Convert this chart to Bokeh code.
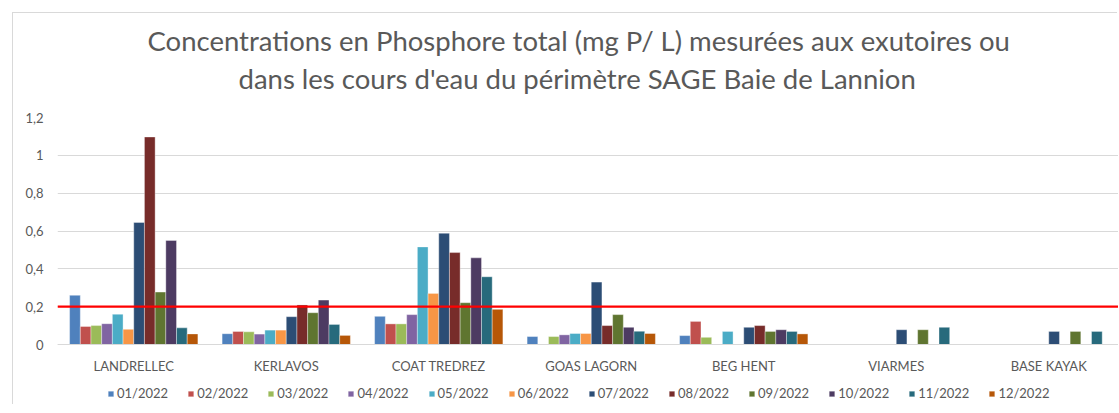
import numpy as np
from bokeh.plotting import figure
from bokeh.models import (Range1d, FixedTicker, CustomJSTickFormatter, Span, Title,
                          Legend, LegendItem, ColumnDataSource)
from bokeh.transform import dodge
from bokeh.embed import file_html
from bokeh.resources import INLINE

sites = ["LANDRELLEC", "KERLAVOS", "COAT TREDREZ", "GOAS LAGORN", "BEG HENT", "VIARMES", "BASE KAYAK"]
months = ["01/2022", "02/2022", "03/2022", "04/2022", "05/2022", "06/2022",
          "07/2022", "08/2022", "09/2022", "10/2022", "11/2022", "12/2022"]
colors = ["#4F81BD", "#C0504D", "#9BBB59", "#8064A2", "#4BACC6", "#F79646",
          "#2C4D75", "#772C2A", "#5F7530", "#4D3B62", "#276A7C", "#B65708"]

N = None
m01 = [0.26, 0.057, 0.149, 0.042, 0.047, N, N]
m02 = [0.095, 0.069, 0.109, N, 0.122, N, N]
m03 = [0.10, 0.067, 0.109, 0.042, 0.038, N, N]
m04 = [0.11, 0.055, 0.158, 0.051, N, N, N]
m05 = [0.16, 0.076, 0.516, 0.058, 0.069, N, N]
m06 = [0.08, 0.076, 0.27, 0.058, N, N, N]
m07 = [0.645, 0.147, 0.588, 0.33, 0.091, 0.078, 0.069]
m08 = [1.097, 0.209, 0.486, 0.10, 0.10, N, N]
m09 = [0.277, 0.168, 0.221, 0.158, 0.069, 0.078, 0.069]
m10 = [0.55, 0.235, 0.458, 0.091, 0.078, N, N]
m11 = [0.088, 0.106, 0.358, 0.07, 0.069, 0.091, 0.069]
m12 = [0.056, 0.048, 0.186, 0.058, 0.056, N, N]
series = [m01, m02, m03, m04, m05, m06, m07, m08, m09, m10, m11, m12]

threshold = 0.2
title_line1 = "Concentrations en Phosphore total (mg P/ L) mesurées aux exutoires ou"
title_line2 = "dans les cours d'eau du périmètre SAGE Baie de Lannion"
yticks = [0, 0.2, 0.4, 0.6, 0.8, 1.0, 1.2]

FONT = "Lato"
TXT = "#595959"
GRID = "#d9d9d9"

CAT_W = 152.5          # pixel width of one category
FRAME_W = 1061
PX_PER_UNIT = 227 / 1.2
FRAME_H = 288          # frame reaches down to include axis labels and legend
bar_w = 0.0701         # bar width in category units
y_lo = -(FRAME_H - 227) / PX_PER_UNIT

p = figure(width=44 + FRAME_W, height=104 + FRAME_H, frame_width=FRAME_W, frame_height=FRAME_H,
           output_backend="svg", toolbar_location=None,
           x_range=Range1d(0, FRAME_W / CAT_W), y_range=Range1d(y_lo, 1.2),
           min_border_left=44, min_border_right=0, min_border_top=104, min_border_bottom=0)
p.margin = (13, 0, 0, 13)
p.styles = {"box-shadow": "-1px -1px 0 0 #d9d9d9"}
p.outline_line_color = None
p.background_fill_color = "white"
p.border_fill_color = "white"

items = []
for j, (vals, lab, col) in enumerate(zip(series, months, colors)):
    xs = [i + 0.5 for i, v in enumerate(vals) if v is not None]
    ts = [v for v in vals if v is not None]
    src = ColumnDataSource(dict(x=xs, top=ts))
    r = p.vbar(x=dodge("x", (j - 5.5) * bar_w), top="top", bottom=0, width=bar_w,
               source=src, fill_color=col, line_color="white", line_alpha=0.45, line_width=0.8)
    items.append(LegendItem(label=lab, renderers=[r]))

p.add_layout(Span(location=threshold, dimension="width", line_color="#FF0000", line_width=2.3))

# axes
p.xaxis.fixed_location = 0
p.xaxis.ticker = FixedTicker(ticks=[i + 0.5 for i in range(len(sites))])
p.xaxis.formatter = CustomJSTickFormatter(args=dict(cats=sites), code="return cats[Math.floor(tick)];")
p.xaxis.axis_line_color = GRID
p.xaxis.major_tick_line_color = None
p.xaxis.minor_tick_line_color = None
p.xaxis.major_tick_out = 0
p.xaxis.major_tick_in = 0
p.xaxis.major_label_standoff = 13
p.xaxis.major_label_text_font = FONT
p.xaxis.major_label_text_font_size = "13px"
p.xaxis.major_label_text_color = TXT

p.yaxis.ticker = FixedTicker(ticks=yticks)
p.yaxis.formatter = CustomJSTickFormatter(code="return String(Math.round(tick*10)/10).replace('.', ',');")
p.yaxis.axis_line_color = None
p.yaxis.major_tick_line_color = None
p.yaxis.minor_tick_line_color = None
p.yaxis.major_tick_out = 0
p.yaxis.major_tick_in = 0
p.yaxis.major_label_standoff = 14
p.yaxis.major_label_text_font = FONT
p.yaxis.major_label_text_font_size = "13px"
p.yaxis.major_label_text_color = TXT

p.xgrid.grid_line_color = None
p.ygrid.grid_line_color = GRID
p.ygrid.ticker = FixedTicker(ticks=yticks)

# title: spacer, line 2, line 1 (stacked upward from the frame)
p.add_layout(Title(text=" ", text_font_size="10px", standoff=10), "above")
p.add_layout(Title(text=title_line2, align="left", offset=181, standoff=0,
                   text_font=FONT, text_font_size="27.5px", text_font_style="normal",
                   text_color=TXT), "above")
p.add_layout(Title(text=title_line1, align="left", offset=90, standoff=6,
                   text_font=FONT, text_font_size="27.5px", text_font_style="normal",
                   text_color=TXT), "above")

legend = Legend(items=items, orientation="horizontal", location=(50, 4),
                glyph_width=7, glyph_height=7, label_standoff=3, label_width=51, spacing=19,
                label_height=14, padding=0, margin=0, border_line_color=None,
                background_fill_alpha=0, label_text_font=FONT, label_text_font_size="13px",
                label_text_color=TXT, label_text_baseline="middle")
p.add_layout(legend, "center")

open("out.html", "w").write(file_html(p, INLINE))
